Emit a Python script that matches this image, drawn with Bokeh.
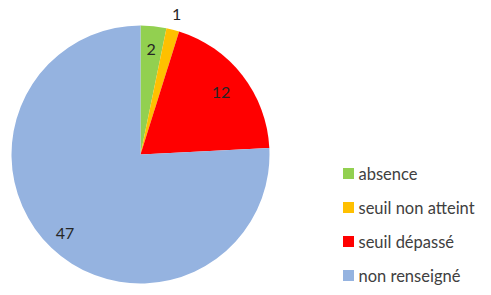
import math
from bokeh.plotting import figure
from bokeh.models import Range1d, ColumnDataSource
from bokeh.core.properties import value
from bokeh.embed import file_html
from bokeh.resources import INLINE

categories = ["absence", "seuil non atteint", "seuil dépassé", "non renseigné"]
counts = [2, 1, 12, 47]
colors = ["#92D050", "#FFC000", "#FF0000", "#95B3E0"]

W, H = 483, 287
# data units = pixels; y measured upward from window bottom (295)
p = figure(width=W, height=H, output_backend="svg", toolbar_location=None,
           x_range=Range1d(0, W), y_range=Range1d(295 - H, 295),
           min_border=0, outline_line_color=None)
p.axis.visible = False
p.grid.visible = False
p.background_fill_color = "white"
p.border_fill_color = "white"

cx, cy_img, R = 140, 154, 129
cy = 295 - cy_img

total = sum(counts)
starts, ends, mids = [], [], []
cum = 0
for c in counts:
    a0 = math.pi / 2 - 2 * math.pi * cum / total
    cum += c
    a1 = math.pi / 2 - 2 * math.pi * cum / total
    starts.append(a0)
    ends.append(a1)
    mids.append((a0 + a1) / 2)

src = ColumnDataSource(dict(start=starts, end=ends, color=colors))
p.wedge(x=cx, y=cy, radius=R, start_angle="start", end_angle="end",
        direction="clock", fill_color="color", line_color=None, source=src)

# data labels
label_r = [0.82, 1.12, 0.79, 0.85]
lx = [cx + R * f * math.cos(m) for f, m in zip(label_r, mids)]
ly = [cy + R * f * math.sin(m) for f, m in zip(label_r, mids)]
p.text(x=lx, y=ly, text=[str(c) for c in counts], text_align="center",
       text_baseline="middle", text_font=value("Lato"), text_font_size="16px",
       text_color="#262626")

# legend
leg_x, leg_y0, leg_dy = 348, 173, 34
sq_x = [leg_x] * len(categories)
sq_y = [295 - (leg_y0 + i * leg_dy) for i in range(len(categories))]
p.rect(x=sq_x, y=sq_y, width=11, height=11, fill_color=colors, line_color=None)
p.text(x=[leg_x + 10] * len(categories), y=sq_y, text=categories,
       text_align="left", text_baseline="middle", text_font=value("Lato"),
       text_font_size="16.5px", text_color="#404040")

open("out.html", "w").write(file_html(p, INLINE))
